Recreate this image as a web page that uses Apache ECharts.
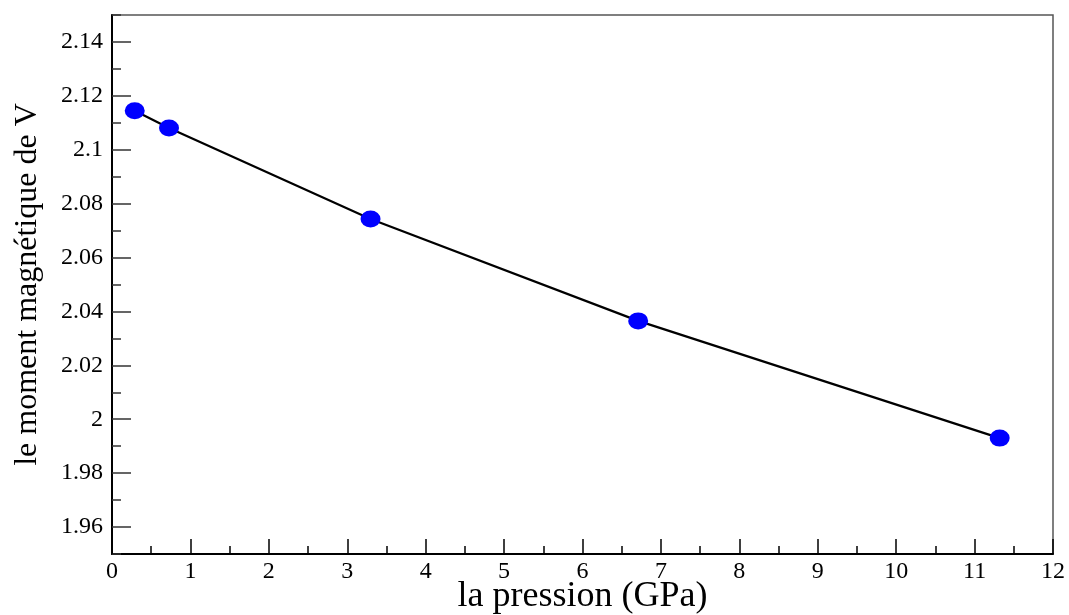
<!DOCTYPE html>
<html>
<head>
<meta charset="utf-8">
<script src="https://cdn.jsdelivr.net/npm/echarts@6/dist/echarts.min.js"></script>
<style>
  html, body { margin: 0; padding: 0; background: #fff; }
  #main { width: 1069px; height: 615px; }
</style>
</head>
<body>
<div id="main"></div>
<script>
// pression (GPa) et moment magnetique
const pression = [0.29, 0.727, 3.297, 6.71, 11.32];
const moment = [2.1145, 2.1081, 2.0743, 2.0365, 1.993];
const xTicks = [0, 1, 2, 3, 4, 5, 6, 7, 8, 9, 10, 11, 12];
const yLabels = [1.96, 1.98, 2, 2.02, 2.04, 2.06, 2.08, 2.1, 2.12, 2.14];

const serif = 'Liberation Serif';
const chart = echarts.init(document.getElementById('main'));

const option = {
  animation: false,
  grid: [
    // grille principale (donnees)
    { left: 112, right: 16, top: 15, bottom: 61, outerBoundsMode: 'none', containLabel: false,
      show: true, borderColor: '#555', borderWidth: 1.5 },
    // grille pour les graduations longues 1.96 .. 2.14
    { left: 112, right: 16, top: 42, bottom: 88, outerBoundsMode: 'none', containLabel: false }
  ],
  xAxis: [
    {
      type: 'value', gridIndex: 0,
      min: xTicks[0], max: xTicks[xTicks.length - 1], interval: 1,
      name: 'la pression (GPa)', nameLocation: 'middle', nameGap: 25, nameMoveOverlap: false,
      nameTextStyle: { fontFamily: serif, fontSize: 36, color: '#000' },
      axisLine: { lineStyle: { color: '#000', width: 2 } },
      axisTick: { inside: true, length: 15, lineStyle: { color: '#000', width: 1.5 } },
      minorTick: { show: true, splitNumber: 2, length: 8, lineStyle: { color: '#000', width: 1.5 } },
      axisLabel: { fontFamily: serif, fontSize: 24, color: '#000', margin: 6 },
      splitLine: { show: false }
    },
    { type: 'value', gridIndex: 1, min: 0, max: 12, show: false }
  ],
  yAxis: [
    {
      type: 'value', gridIndex: 0,
      min: 1.95, max: 2.15, interval: 0.01,
      name: 'le moment magnétique de V', nameLocation: 'middle', nameGap: 68, nameMoveOverlap: false,
      nameTextStyle: { fontFamily: serif, fontSize: 32, color: '#000' },
      axisLine: { lineStyle: { color: '#000', width: 2 } },
      axisTick: { inside: true, length: 9, lineStyle: { color: '#333', width: 1.5 } },
      axisLabel: { show: false },
      splitLine: { show: false }
    },
    {
      type: 'value', gridIndex: 1,
      min: yLabels[0], max: yLabels[yLabels.length - 1], interval: 0.02,
      axisLine: { show: false },
      axisTick: { inside: true, length: 19, lineStyle: { color: '#333', width: 1.5 } },
      axisLabel: {
        fontFamily: serif, fontSize: 24, color: '#000', margin: 9,
        formatter: v => String(+v.toFixed(2))
      },
      splitLine: { show: false }
    }
  ],
  series: [
    {
      type: 'line',
      xAxisIndex: 0, yAxisIndex: 0,
      data: pression.map((p, i) => [p, moment[i]]),
      symbol: 'circle',
      symbolSize: [20, 17],
      itemStyle: { color: '#0000ff' },
      lineStyle: { color: '#000', width: 2.2 },
      z: 5
    }
  ]
};

chart.setOption(option);
</script>
</body>
</html>
